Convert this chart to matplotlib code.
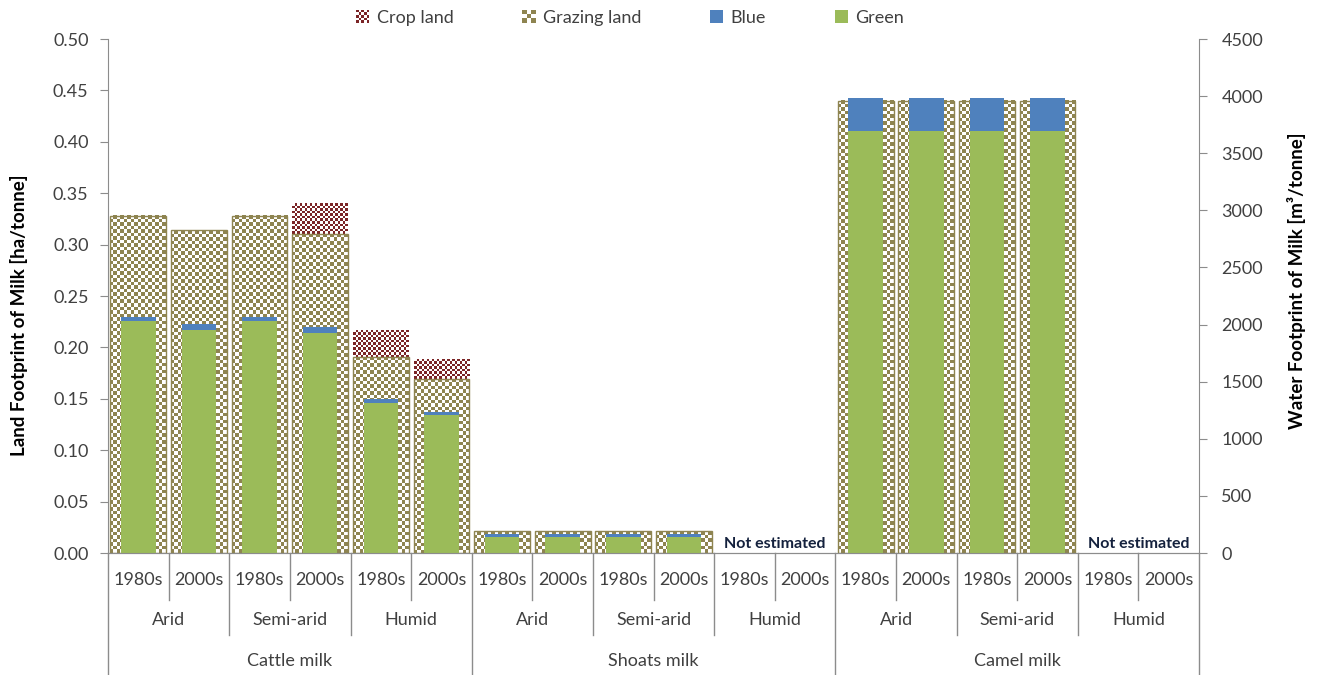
import numpy as np
import matplotlib
matplotlib.use("Agg")
import matplotlib.pyplot as plt
from matplotlib.colors import ListedColormap
from matplotlib.patches import Rectangle, Patch
from matplotlib.legend_handler import HandlerBase
import matplotlib.transforms as mtransforms

plt.rcParams['font.family'] = ['Lato', 'DejaVu Sans']

# data
periods = ['1980s', '2000s'] * 9
climates = ['Arid', 'Semi-arid', 'Humid'] * 3
milk_types = ['Cattle milk', 'Shoats milk', 'Camel milk']

# land footprint [ha/tonne], left axis
grazing_land = [0.328, 0.314, 0.328, 0.310, 0.191, 0.169,
                0.021, 0.021, 0.021, 0.021, 0, 0,
                0.440, 0.440, 0.440, 0.440, 0, 0]
crop_land = [0, 0, 0, 0.030, 0.026, 0.019,
             0, 0, 0, 0, 0, 0,
             0, 0, 0, 0, 0, 0]
# water footprint [m3/tonne], right axis
green = [2035, 1950, 2035, 1930, 1310, 1205,
         140, 140, 140, 140, 0, 0,
         3695, 3695, 3695, 3695, 0, 0]
blue = [30, 55, 30, 50, 38, 32,
        28, 28, 28, 28, 0, 0,
        285, 285, 285, 285, 0, 0]
not_estimated = [10.5, 16.5]  # centre of the missing groups

OLIVE = '#8E8450'
MAROON = '#7B2426'
BLUE = '#4F81BD'
GREEN = '#9BBB59'
GREY = '#8C8C8C'
TXT = '#404040'

x = np.arange(len(periods))
est = np.array(grazing_land) > 0

fig = plt.figure(figsize=(13.21, 6.75), dpi=100)
ax = fig.add_axes([0.0818, 0.1807, 0.8259, 0.7615])
ax.set_xlim(-0.5, 17.5)
ax.set_ylim(0, 0.5)

# land bars (outline only, filled with a checker image)
graz = ax.bar(x[est], np.array(grazing_land)[est], width=0.92,
              facecolor='none', edgecolor=OLIVE, linewidth=1, zorder=3)
crop_mask = np.array(crop_land) > 0
crop = ax.bar(x[crop_mask], np.array(crop_land)[crop_mask], width=0.92,
              bottom=np.array(grazing_land)[crop_mask],
              facecolor='none', edgecolor='none', zorder=3)

def checker(ax, rect, color, cell):
    x0, y0 = rect.get_x(), rect.get_y()
    x1, y1 = x0 + rect.get_width(), y0 + rect.get_height()
    p0 = ax.transData.transform((x0, y0))
    p1 = ax.transData.transform((x1, y1))
    nc = max(1, int(round(abs(p1[0] - p0[0]) / cell)))
    nr = max(1, int(round(abs(p1[1] - p0[1]) / cell)))
    arr = np.indices((nr, nc)).sum(axis=0) % 2
    ax.imshow(arr, cmap=ListedColormap(['white', color]), extent=(x0, x1, y0, y1),
              aspect='auto', interpolation='nearest', zorder=1)

for r in graz:
    checker(ax, r, OLIVE, 3.5)
for r in crop:
    checker(ax, r, MAROON, 2.5)
ax.set_xlim(-0.5, 17.5)
ax.set_ylim(0, 0.5)

ax.set_yticks(np.arange(0, 0.51, 0.05))
ax.set_yticklabels(['%.2f' % v for v in np.arange(0, 0.51, 0.05)])
ax.set_xticks([])
ax.set_ylabel('Land Footprint of Milk [ha/tonne]', fontsize=13.5, fontweight='bold',
              color='black')
ax.yaxis.set_label_coords(-0.073, 0.463)

# water bars
ax2 = ax.twinx()
ax2.set_ylim(0, 4500)
ax2.bar(x[est], np.array(green)[est], width=0.57, color=GREEN, zorder=2)
ax2.bar(x[est], np.array(blue)[est], width=0.57, bottom=np.array(green)[est],
        color=BLUE, zorder=2)
ax2.set_yticks(np.arange(0, 4501, 500))
ax2.set_ylabel('Water Footprint of Milk [m³/tonne]', fontsize=13.5, fontweight='bold',
               color='black')
ax2.yaxis.set_label_coords(1.081, 0.529)
ax2.set_xlim(-0.5, 17.5)

for a in (ax, ax2):
    a.spines['top'].set_visible(False)
    for s in ('left', 'right', 'bottom'):
        a.spines[s].set_color(GREY)
    a.tick_params(axis='y', colors=GREY, labelcolor=TXT, labelsize=13, length=6,
                  direction='out', pad=8)
ax2.tick_params(axis='y', pad=10)
ax2.spines['left'].set_visible(False)
ax.spines['right'].set_visible(False)

for xc in not_estimated:
    ax.text(xc, 0.002, 'Not estimated', ha='center', va='bottom', fontsize=11.5,
            fontweight='bold', color='#14213D', zorder=5)

# multi-level category axis
trans = mtransforms.blended_transform_factory(ax.transData, ax.transAxes)
for i, p in enumerate(periods):
    ax.text(i, -0.0525, p, transform=trans, ha='center', va='center',
            fontsize=13, color=TXT)
for j, c in enumerate(climates):
    ax.text(2 * j + 0.5, -0.130, c, transform=trans, ha='center', va='center',
            fontsize=13, color=TXT)
for k, m in enumerate(milk_types):
    ax.text(6 * k + 2.5, -0.210, m, transform=trans, ha='center', va='center',
            fontsize=13, color=TXT)

for b in np.arange(-0.5, 18, 1.0):
    if (b + 0.5) % 6 == 0:
        y_end = -0.237
    elif (b + 0.5) % 2 == 0:
        y_end = -0.160
    else:
        y_end = -0.092
    ax.plot([b, b], [0, y_end], transform=trans, color=GREY, lw=1, clip_on=False)

# legend
class CheckerHandler(HandlerBase):
    def __init__(self, color, n):
        super().__init__()
        self.color = color
        self.n = n

    def create_artists(self, legend, orig_handle, xdescent, ydescent, width, height,
                       fontsize, trans):
        s = height
        x0, y0 = -xdescent + (width - s) / 2, -ydescent
        arts = [Rectangle((x0, y0), s, s, facecolor='white', edgecolor='none', transform=trans)]
        c = s / self.n
        for i in range(self.n):
            for j in range(self.n):
                if (i + j) % 2 == 0:
                    arts.append(Rectangle((x0 + i * c, y0 + j * c), c, c,
                                          facecolor=self.color, edgecolor='none',
                                          transform=trans))
        return arts

h_crop = Patch(label='Crop land')
h_graz = Patch(label='Grazing land')
h_blue = Patch(facecolor=BLUE, label='Blue')
h_green = Patch(facecolor=GREEN, label='Green')
fig.legend(handles=[h_crop, h_graz, h_blue, h_green], loc='center', ncol=4,
           bbox_to_anchor=(0.477, 0.974), frameon=False, fontsize=13,
           handlelength=0.75, handleheight=0.75, handletextpad=0.4, columnspacing=3.8,
           labelcolor=TXT,
           handler_map={h_crop: CheckerHandler(MAROON, 5), h_graz: CheckerHandler(OLIVE, 3)})

fig.savefig('out.png', dpi=100)
